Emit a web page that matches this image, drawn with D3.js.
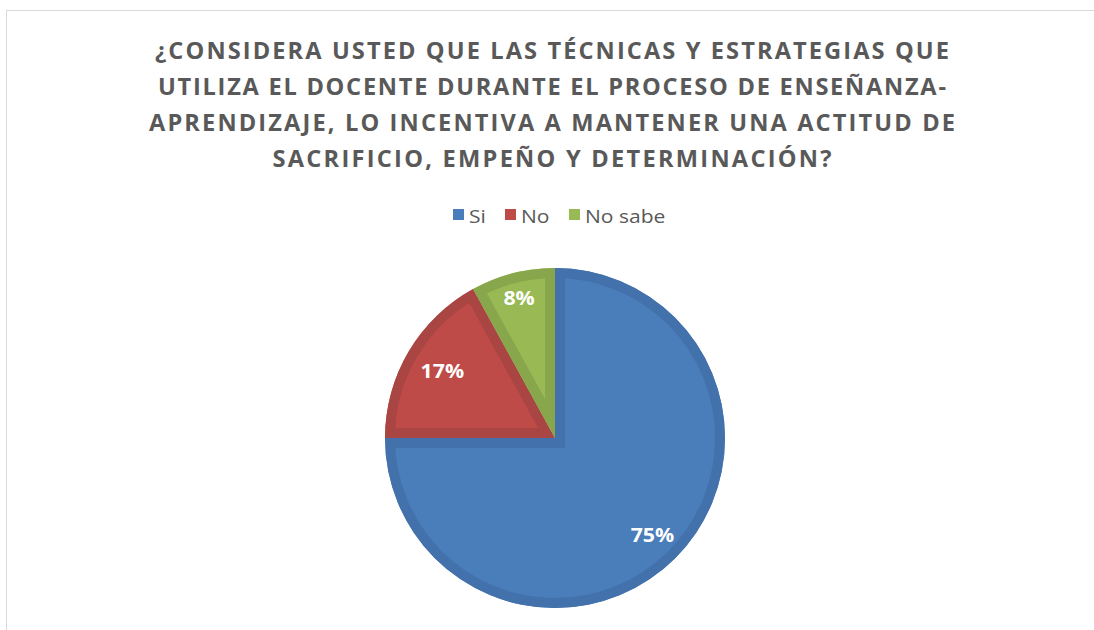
<!DOCTYPE html>
<html>
<head>
<meta charset="utf-8">
<script src="https://cdn.jsdelivr.net/npm/d3@7"></script>
<style>
  html, body { margin: 0; padding: 0; background: #fff; }
  svg { display: block; }
</style>
</head>
<body>
<svg id="chart" width="1094" height="630"></svg>
<script>
// Survey answers and their shares (percent)
const categories = ["Si", "No", "No sabe"];
const values = [75, 17, 8];
const fillColors = ["#4A7EBB", "#BE4B48", "#98B954"];
const edgeColors = ["#4371AC", "#A94542", "#88A64C"];
const titleLines = [
  "¿CONSIDERA USTED QUE LAS TÉCNICAS Y ESTRATEGIAS QUE",
  "UTILIZA EL DOCENTE DURANTE EL PROCESO DE ENSEÑANZA-",
  "APRENDIZAJE, LO INCENTIVA A MANTENER UNA ACTITUD DE",
  "SACRIFICIO, EMPEÑO Y DETERMINACIÓN?"
];

const svg = d3.select("#chart");
const W = 1094, H = 630;
const SX = 1.12; // horizontal stretch of the lettering

// chart frame (only top and left edges fall inside the view)
svg.append("rect")
  .attr("x", 6.5).attr("y", 10.5)
  .attr("width", W).attr("height", H)
  .attr("fill", "#fff")
  .attr("stroke", "#D9D9D9")
  .attr("stroke-width", 1);

// title
const titleWidths = [794, 788, 806, 559];
const titleBase = [59, 95, 131, 167];
svg.append("g").selectAll("text")
  .data(titleLines)
  .join("text")
  .attr("transform", (d, i) => `translate(552,${titleBase[i]}) scale(1.05,1)`)
  .attr("text-anchor", "middle")
  .attr("textLength", (d, i) => titleWidths[i] / 1.05)
  .attr("lengthAdjust", "spacing")
  .attr("font-family", "'Open Sans', sans-serif")
  .attr("font-weight", "bold")
  .attr("font-size", 22.5)
  .attr("fill", "#595959")
  .text(d => d);

// legend
const legendX = [453, 505, 569];
const legend = svg.append("g").selectAll("g")
  .data(categories)
  .join("g")
  .attr("transform", (d, i) => `translate(${legendX[i]},0)`);
legend.append("rect")
  .attr("x", 0).attr("y", 209)
  .attr("width", 11).attr("height", 11)
  .attr("fill", (d, i) => fillColors[i]);
legend.append("text")
  .attr("transform", `translate(16,223) scale(1.17,1)`)
  .attr("font-family", "'Open Sans', sans-serif")
  .attr("font-size", 18)
  .attr("fill", "#595959")
  .text(d => d);

// pie
const cx = 555, cy = 438, r = 170;
const labelRadius = [0.81, 0.77, 0.85]; // label distance from centre, as a share of r
const pie = d3.pie().sort(null).value(d => d);
const arcs = pie(values);
const arc = d3.arc().innerRadius(0).outerRadius(r);

const g = svg.append("g").attr("transform", `translate(${cx},${cy})`);
const defs = svg.append("defs");

arcs.forEach((a, i) => {
  defs.append("clipPath").attr("id", "slice-clip-" + i)
    .append("path").attr("d", arc(a));
});

const slices = g.selectAll("g.slice")
  .data(arcs)
  .join("g")
  .attr("class", "slice");

slices.append("path")
  .attr("d", arc)
  .attr("fill", (d, i) => fillColors[i]);

// darker inner rim on each slice
slices.append("path")
  .attr("d", arc)
  .attr("fill", "none")
  .attr("stroke", (d, i) => edgeColors[i])
  .attr("stroke-width", 20)
  .attr("stroke-linejoin", "miter")
  .attr("clip-path", (d, i) => `url(#slice-clip-${i})`);

// value labels
g.selectAll("text.val")
  .data(arcs)
  .join("text")
  .attr("class", "val")
  .attr("transform", (d, i) => {
    const rr = r * labelRadius[i];
    const [x, y] = d3.arc().innerRadius(rr).outerRadius(rr).centroid(d);
    return `translate(${x},${y}) scale(${SX},1)`;
  })
  .attr("text-anchor", "middle")
  .attr("dy", "0.36em")
  .attr("font-family", "'Open Sans', sans-serif")
  .attr("font-weight", "bold")
  .attr("font-size", 19)
  .attr("fill", "#fff")
  .text(d => d.data + "%");
</script>
</body>
</html>
